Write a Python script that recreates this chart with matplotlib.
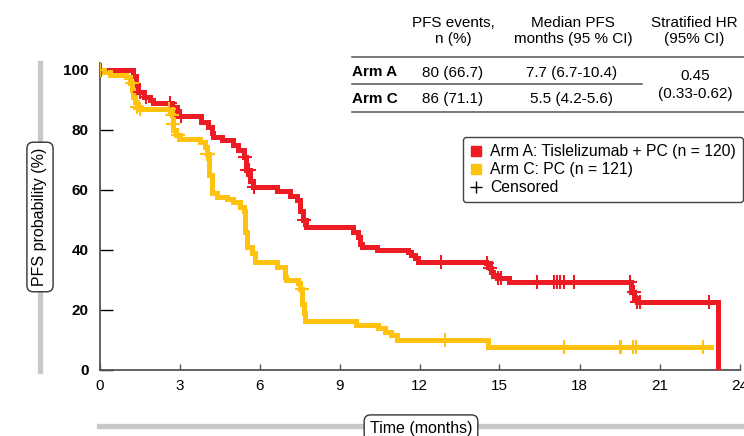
import numpy as np
import matplotlib
matplotlib.use("Agg")
import matplotlib.pyplot as plt
from matplotlib.lines import Line2D

plt.rcParams['font.family'] = ['Liberation Sans', 'DejaVu Sans']

# Kaplan-Meier step data (months, % PFS after each step)
arm_a_t = [0, 1.27, 1.35, 1.45, 1.65, 1.9, 2.0, 2.7, 2.9, 2.95, 3.8, 4.05, 4.2, 4.25,
           4.6, 5.0, 5.2, 5.4, 5.5, 5.65, 5.75, 6.65, 7.15, 7.4, 7.5, 7.63, 7.75,
           9.5, 9.7, 9.77, 9.83, 10.4, 11.57, 11.7, 11.83, 11.94, 14.5, 14.64, 14.7,
           14.77, 14.9, 15.35, 19.95, 20.05, 20.15, 23.2]
arm_a_s = [100, 98, 95, 92.5, 90.8, 89.8, 88.7, 87.6, 86, 84.5, 82.6, 81, 78.8, 77.6,
           76.5, 74.8, 73.2, 70.8, 66.5, 63, 61, 59.5, 58, 56.5, 53, 50, 47.5,
           46, 44.3, 42, 41, 39.8, 39.3, 38.2, 37.1, 35.9, 35.5, 33.8, 32.6,
           31.5, 30.5, 29.2, 26, 24, 22.6, 0]
arm_a_cens = [0.05, 1.5, 1.75, 2.64, 3.05, 5.45, 5.55, 5.62, 5.78, 7.65, 12.8, 14.53,
              14.64, 14.95, 15.05, 16.4, 17.03, 17.15, 17.27, 17.4, 17.78, 19.9, 20.03,
              20.17, 20.27, 22.84]

arm_c_t = [0, 0.15, 0.4, 1.0, 1.15, 1.22, 1.27, 1.33, 1.4, 1.5, 2.7, 2.74, 2.76, 2.88,
           3.0, 3.77, 3.95, 4.02, 4.1, 4.2, 4.4, 4.77, 5.0, 5.25, 5.4, 5.45, 5.55,
           5.7, 5.83, 6.65, 6.95, 7.0, 7.45, 7.5, 7.6, 7.65, 7.7, 9.6, 10.45, 10.7,
           10.95, 11.15, 14.55, 22.95]
arm_c_s = [100, 99.2, 98.2, 97.6, 95.4, 93.2, 91, 89.3, 87.6, 87, 84.8, 82, 79.8, 78.2,
           77, 75.9, 74.3, 72, 65, 58.7, 57.6, 57, 56, 54.3, 53, 46, 41,
           38.8, 36, 34.3, 31, 29.8, 28.7, 27, 22, 18.8, 16.3, 14.8, 13.7, 12.6,
           11.5, 10, 7.5, 7.5]
arm_c_cens = [0.0, 1.2, 1.4, 1.52, 2.62, 2.7, 2.75, 2.95, 4.03, 4.08, 7.58, 12.95,
              17.4, 19.5, 19.57, 20.0, 20.1, 22.65]

x_ticks = [0, 3, 6, 9, 12, 15, 18, 21, 24]
y_ticks = [0, 20, 40, 60, 80, 100]

table_header = ["PFS events,\nn (%)", "Median PFS\nmonths (95 % CI)", "Stratified HR\n(95% CI)"]
table_rows = ["Arm A", "Arm C"]
table_events = ["80 (66.7)", "86 (71.1)"]
table_median = ["7.7 (6.7-10.4)", "5.5 (4.2-5.6)"]
table_hr = "0.45\n(0.33-0.62)"

legend_labels = ["Arm A: Tislelizumab + PC (n = 120)", "Arm C: PC (n = 121)", "Censored"]

red = '#ED1C24'
yellow = '#FFC20E'
spine_c = '#555555'
W, H = 744, 436


def fx(x):
    return x / W


def fy(y):
    return 1 - y / H


def at(times, surv, t):
    i = np.searchsorted(times, t, side='right') - 1
    return surv[max(i, 0)]


fig = plt.figure(figsize=(7.44, 4.36), dpi=100)
ax = fig.add_axes([fx(99.5), fy(369.5), fx(640), (369.5 - 63) / H])

ax.step(arm_a_t, arm_a_s, where='post', color=red, lw=3.6, solid_joinstyle='miter', zorder=3)
ax.step(arm_c_t, arm_c_s, where='post', color=yellow, lw=3.6, solid_joinstyle='miter', zorder=4)
ax.plot(arm_a_cens, [at(arm_a_t, arm_a_s, t) for t in arm_a_cens], ls='none',
        marker='+', ms=10, mew=1.5, color=red, zorder=5)
ax.plot(arm_c_cens, [at(arm_c_t, arm_c_s, t) for t in arm_c_cens], ls='none',
        marker='+', ms=10, mew=1.5, color=yellow, zorder=6)

ax.set_xlim(0, 24)
ax.set_ylim(0, 102.2)
ax.set_xticks(x_ticks)
ax.set_yticks(y_ticks)
for s in ['top', 'right']:
    ax.spines[s].set_visible(False)
for s in ['left', 'bottom']:
    ax.spines[s].set_color(spine_c)
    ax.spines[s].set_linewidth(1.3)
ax.tick_params(axis='y', direction='in', length=9.5, width=1, color='black', pad=8, labelsize=11)
ax.tick_params(axis='x', direction='in', length=4.5, width=1, color=spine_c, pad=7, labelsize=11)
for lab in ax.get_yticklabels():
    lab.set_fontweight('bold')

# axis titles in rounded boxes over gray bars
fig.add_artist(Line2D([fx(40), fx(40)], [fy(63), fy(371)], color='#c8c8c8', lw=3.8, zorder=0))
fig.add_artist(Line2D([fx(99), fx(743)], [fy(426), fy(426)], color='#c8c8c8', lw=3.8, zorder=0))
box = dict(boxstyle='round,pad=0.35,rounding_size=0.4', fc='white', ec='#333333', lw=1)
fig.text(fx(40), fy(217), "PFS probability (%)", rotation=90, ha='center', va='center',
         fontsize=11.5, bbox=box)
fig.text(fx(421), fy(428), "Time (months)", ha='center', va='center', fontsize=11.5, bbox=box)

# summary table
fs = 11
for xc, txt in zip([453, 573, 694], table_header):
    fig.text(fx(xc), fy(31), txt, ha='center', va='center', fontsize=fs, linespacing=1.2)
for yc, row, ev, med in zip([72.5, 99], table_rows, table_events, table_median):
    fig.text(fx(352), fy(yc), row, ha='left', va='center', fontsize=fs, fontweight='bold')
    fig.text(fx(453), fy(yc), ev, ha='center', va='center', fontsize=fs)
    fig.text(fx(572), fy(yc), med, ha='center', va='center', fontsize=fs)
fig.text(fx(695), fy(85), table_hr, ha='center', va='center', fontsize=fs, linespacing=1.3)
for y0, x1 in [(57.5, 744), (84.5, 642), (112.5, 744)]:
    fig.add_artist(Line2D([fx(352), fx(x1)], [fy(y0), fy(y0)], color=spine_c, lw=1.1))

# legend
handles = [Line2D([], [], ls='none', marker='s', ms=7, color=red),
           Line2D([], [], ls='none', marker='s', ms=7, color=yellow),
           Line2D([], [], ls='none', marker='+', ms=8, mew=1, color='black')]
leg = ax.legend(handles, legend_labels, loc='upper right', bbox_to_anchor=(fx(743), fy(137)),
                bbox_transform=fig.transFigure, borderaxespad=0, fontsize=11.3,
                handlelength=0.8, handletextpad=0.5, labelspacing=0.2, borderpad=0.45,
                fancybox=True, framealpha=1, edgecolor='#444444')
leg.get_frame().set_linewidth(1)

fig.savefig('out.png', dpi=100)
